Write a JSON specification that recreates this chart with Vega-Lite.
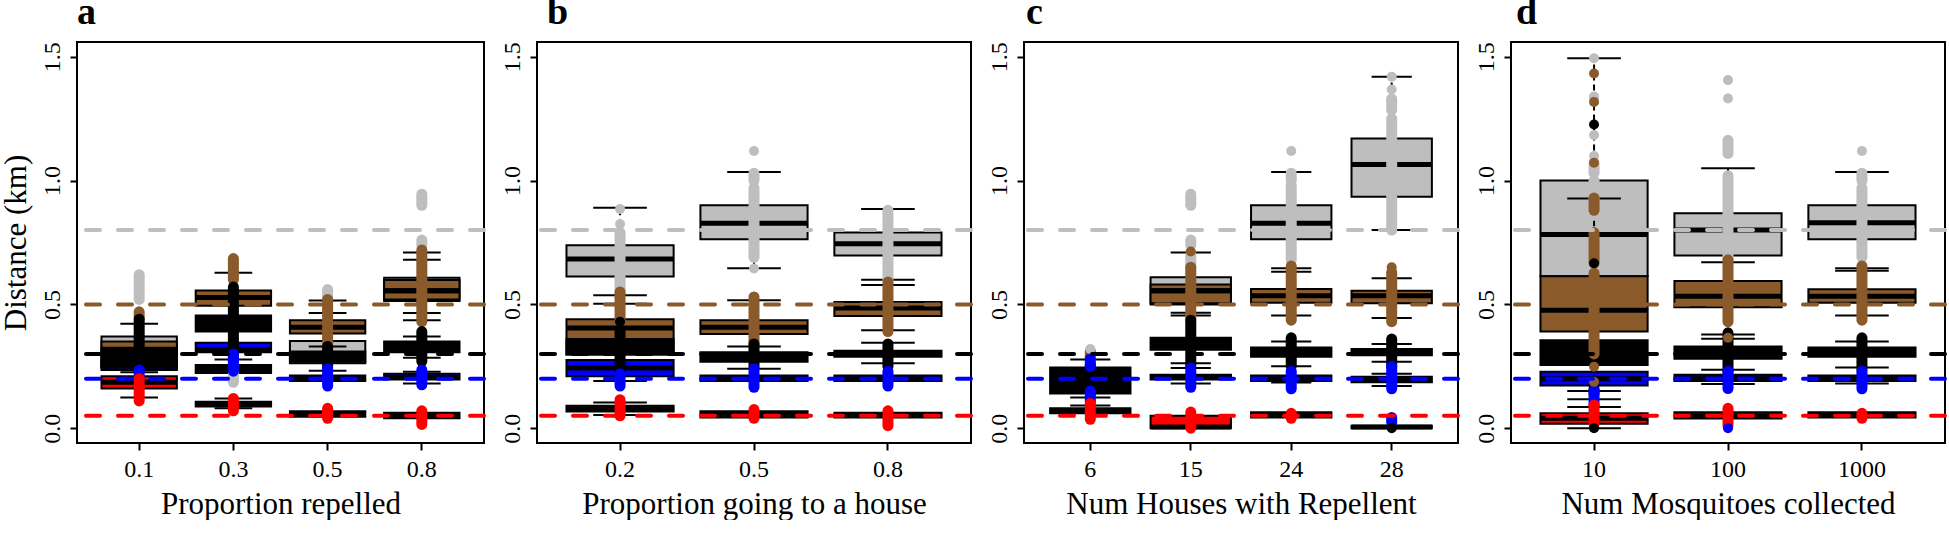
{
  "$schema": "https://vega.github.io/schema/vega-lite/v6.json",
  "background": "white",
  "padding": {"left": -1, "top": -8, "right": 0, "bottom": 0},
  "bounds": "flush",
  "spacing": 53,
  "resolve": {"scale": {"x": "independent", "y": "independent"}},
  "datasets": {
    "boxes": [
      {"p":"a","cat":"0.1","s":"gray","q1":0.245,"med":0.30,"q3":0.37,"hi":0.422},
      {"p":"a","cat":"0.1","s":"brown","q1":0.25,"med":0.30,"q3":0.35},
      {"p":"a","cat":"0.1","s":"blue","q1":0.235,"med":0.25,"q3":0.27,"lo":0.226},
      {"p":"a","cat":"0.1","s":"red","q1":0.16,"med":0.185,"q3":0.21,"lo":0.124},
      {"p":"a","cat":"0.1","s":"black","q1":0.245,"med":0.285,"q3":0.325},
      {"p":"a","cat":"0.3","s":"brown","q1":0.494,"med":0.528,"q3":0.556,"hi":0.628},
      {"p":"a","cat":"0.3","s":"blue","q1":0.307,"med":0.318,"q3":0.345,"lo":0.277},
      {"p":"a","cat":"0.3","s":"red","q1":0.087,"med":0.097,"q3":0.107,"lo":0.08,"hi":0.12},
      {"p":"a","cat":"0.3","s":"black","q1":0.39,"med":0.42,"q3":0.455},
      {"p":"a","cat":"0.3","s":"black","q1":0.223,"med":0.24,"q3":0.255},
      {"p":"a","cat":"0.5","s":"gray","q1":0.262,"med":0.29,"q3":0.352,"hi":0.465},
      {"p":"a","cat":"0.5","s":"brown","q1":0.382,"med":0.408,"q3":0.436,"hi":0.516},
      {"p":"a","cat":"0.5","s":"blue","q1":0.19,"med":0.2,"q3":0.213},
      {"p":"a","cat":"0.5","s":"red","q1":0.046,"med":0.057,"q3":0.068},
      {"p":"a","cat":"0.5","s":"black","q1":0.268,"med":0.29,"q3":0.31,"lo":0.232,"hi":0.33},
      {"p":"a","cat":"0.8","s":"gray","q1":0.514,"med":0.555,"q3":0.608,"lo":0.465,"hi":0.68},
      {"p":"a","cat":"0.8","s":"brown","q1":0.52,"med":0.555,"q3":0.598,"lo":0.436,"hi":0.71},
      {"p":"a","cat":"0.8","s":"blue","q1":0.197,"med":0.205,"q3":0.22,"lo":0.18,"hi":0.228},
      {"p":"a","cat":"0.8","s":"red","q1":0.04,"med":0.05,"q3":0.062},
      {"p":"a","cat":"0.8","s":"black","q1":0.307,"med":0.325,"q3":0.35,"lo":0.284,"hi":0.37},
      {"p":"b","cat":"0.2","s":"gray","q1":0.613,"med":0.683,"q3":0.739,"lo":0.537,"hi":0.89},
      {"p":"b","cat":"0.2","s":"brown","q1":0.30,"med":0.405,"q3":0.44,"hi":0.503},
      {"p":"b","cat":"0.2","s":"blue","q1":0.21,"med":0.243,"q3":0.275,"lo":0.19},
      {"p":"b","cat":"0.2","s":"red","q1":0.067,"med":0.078,"q3":0.09,"lo":0.053,"hi":0.104},
      {"p":"b","cat":"0.2","s":"black","q1":0.297,"med":0.33,"q3":0.36},
      {"p":"b","cat":"0.5","s":"gray","q1":0.763,"med":0.828,"q3":0.90,"lo":0.646,"hi":1.035},
      {"p":"b","cat":"0.5","s":"brown","q1":0.38,"med":0.408,"q3":0.436,"hi":0.517},
      {"p":"b","cat":"0.5","s":"blue","q1":0.19,"med":0.2,"q3":0.213},
      {"p":"b","cat":"0.5","s":"red","q1":0.043,"med":0.055,"q3":0.068},
      {"p":"b","cat":"0.5","s":"black","q1":0.268,"med":0.285,"q3":0.307,"lo":0.24,"hi":0.33},
      {"p":"b","cat":"0.8","s":"gray","q1":0.697,"med":0.745,"q3":0.79,"lo":0.60,"hi":0.885},
      {"p":"b","cat":"0.8","s":"brown","q1":0.453,"med":0.485,"q3":0.51,"lo":0.395,"hi":0.578},
      {"p":"b","cat":"0.8","s":"blue","q1":0.19,"med":0.2,"q3":0.213},
      {"p":"b","cat":"0.8","s":"red","q1":0.043,"med":0.052,"q3":0.062},
      {"p":"b","cat":"0.8","s":"black","q1":0.288,"med":0.30,"q3":0.313,"lo":0.262,"hi":0.345},
      {"p":"c","cat":"6","s":"red","q1":0.06,"med":0.07,"q3":0.08,"hi":0.091},
      {"p":"c","cat":"6","s":"black","q1":0.14,"med":0.19,"q3":0.245,"lo":0.124,"hi":0.277},
      {"p":"c","cat":"15","s":"gray","q1":0.5,"med":0.555,"q3":0.61,"lo":0.455},
      {"p":"c","cat":"15","s":"brown","q1":0.505,"med":0.555,"q3":0.58,"lo":0.466,"hi":0.71},
      {"p":"c","cat":"15","s":"blue","q1":0.197,"med":0.205,"q3":0.216,"lo":0.18,"hi":0.243},
      {"p":"c","cat":"15","s":"red","q1":0.0,"med":0.005,"q3":0.05},
      {"p":"c","cat":"15","s":"black","q1":0.317,"med":0.34,"q3":0.365,"lo":0.262},
      {"p":"c","cat":"24","s":"gray","q1":0.763,"med":0.828,"q3":0.90,"lo":0.646,"hi":1.035},
      {"p":"c","cat":"24","s":"brown","q1":0.507,"med":0.535,"q3":0.562,"lo":0.455,"hi":0.632},
      {"p":"c","cat":"24","s":"blue","q1":0.19,"med":0.2,"q3":0.213,"lo":0.184},
      {"p":"c","cat":"24","s":"red","q1":0.043,"med":0.053,"q3":0.064},
      {"p":"c","cat":"24","s":"black","q1":0.288,"med":0.305,"q3":0.326,"lo":0.25,"hi":0.35},
      {"p":"c","cat":"28","s":"gray","q1":0.935,"med":1.065,"q3":1.17,"lo":0.80,"hi":1.42},
      {"p":"c","cat":"28","s":"brown","q1":0.505,"med":0.535,"q3":0.555,"lo":0.445,"hi":0.606},
      {"p":"c","cat":"28","s":"blue","q1":0.185,"med":0.195,"q3":0.208,"lo":0.17,"hi":0.22},
      {"p":"c","cat":"28","s":"red","q1":0.0,"med":0.005,"q3":0.01},
      {"p":"c","cat":"28","s":"black","q1":0.294,"med":0.305,"q3":0.32,"lo":0.268,"hi":0.34},
      {"p":"d","cat":"10","s":"gray","q1":0.614,"med":0.782,"q3":1.0,"hi":1.494},
      {"p":"d","cat":"10","s":"brown","q1":0.39,"med":0.476,"q3":0.614,"hi":0.928},
      {"p":"d","cat":"10","s":"blue","q1":0.172,"med":0.2,"q3":0.228,"lo":0.117},
      {"p":"d","cat":"10","s":"red","q1":0.018,"med":0.04,"q3":0.06,"lo":0.0,"hi":0.085},
      {"p":"d","cat":"10","s":"black","q1":0.255,"med":0.30,"q3":0.355,"lo":0.15},
      {"p":"d","cat":"100","s":"gray","q1":0.697,"med":0.80,"q3":0.868,"lo":0.67,"hi":1.05},
      {"p":"d","cat":"100","s":"brown","q1":0.488,"med":0.533,"q3":0.594,"lo":0.378},
      {"p":"d","cat":"100","s":"blue","q1":0.19,"med":0.2,"q3":0.216,"lo":0.178},
      {"p":"d","cat":"100","s":"red","q1":0.039,"med":0.05,"q3":0.064},
      {"p":"d","cat":"100","s":"black","q1":0.28,"med":0.30,"q3":0.33,"lo":0.236,"hi":0.361},
      {"p":"d","cat":"1000","s":"gray","q1":0.763,"med":0.83,"q3":0.90,"lo":0.646,"hi":1.035},
      {"p":"d","cat":"1000","s":"brown","q1":0.507,"med":0.533,"q3":0.561,"lo":0.455,"hi":0.636},
      {"p":"d","cat":"1000","s":"blue","q1":0.19,"med":0.2,"q3":0.213,"lo":0.18},
      {"p":"d","cat":"1000","s":"red","q1":0.043,"med":0.052,"q3":0.064},
      {"p":"d","cat":"1000","s":"black","q1":0.288,"med":0.305,"q3":0.326,"lo":0.245,"hi":0.35}
    ],
    "clusters": [
      {"p":"a","cat":"0.1","s":"gray","lo":0.52,"hi":0.62},
      {"p":"a","cat":"0.3","s":"gray","lo":0.185,"hi":0.22},
      {"p":"a","cat":"0.5","s":"gray","lo":0.53,"hi":0.56},
      {"p":"a","cat":"0.8","s":"gray","lo":0.74,"hi":0.76},
      {"p":"a","cat":"0.8","s":"gray","lo":0.90,"hi":0.945},
      {"p":"a","cat":"0.1","s":"brown","lo":0.445,"hi":0.47},
      {"p":"a","cat":"0.3","s":"brown","lo":0.60,"hi":0.685},
      {"p":"a","cat":"0.5","s":"brown","lo":0.34,"hi":0.52},
      {"p":"a","cat":"0.8","s":"brown","lo":0.43,"hi":0.72},
      {"p":"a","cat":"0.1","s":"black","lo":0.235,"hi":0.44},
      {"p":"a","cat":"0.3","s":"black","lo":0.27,"hi":0.57},
      {"p":"a","cat":"0.5","s":"black","lo":0.245,"hi":0.33},
      {"p":"a","cat":"0.8","s":"black","lo":0.27,"hi":0.39},
      {"p":"a","cat":"0.1","s":"blue","lo":0.20,"hi":0.235},
      {"p":"a","cat":"0.3","s":"blue","lo":0.23,"hi":0.30},
      {"p":"a","cat":"0.5","s":"blue","lo":0.17,"hi":0.24},
      {"p":"a","cat":"0.8","s":"blue","lo":0.175,"hi":0.235},
      {"p":"a","cat":"0.1","s":"red","lo":0.11,"hi":0.20},
      {"p":"a","cat":"0.3","s":"red","lo":0.07,"hi":0.12},
      {"p":"a","cat":"0.5","s":"red","lo":0.04,"hi":0.08},
      {"p":"a","cat":"0.8","s":"red","lo":0.015,"hi":0.07},
      {"p":"b","cat":"0.2","s":"gray","lo":0.55,"hi":0.79},
      {"p":"b","cat":"0.5","s":"gray","lo":0.69,"hi":0.97},
      {"p":"b","cat":"0.5","s":"gray","lo":1.0,"hi":1.03},
      {"p":"b","cat":"0.8","s":"gray","lo":0.60,"hi":0.88},
      {"p":"b","cat":"0.2","s":"brown","lo":0.44,"hi":0.55},
      {"p":"b","cat":"0.5","s":"brown","lo":0.33,"hi":0.53},
      {"p":"b","cat":"0.8","s":"brown","lo":0.39,"hi":0.59},
      {"p":"b","cat":"0.2","s":"black","lo":0.23,"hi":0.39},
      {"p":"b","cat":"0.5","s":"black","lo":0.245,"hi":0.34},
      {"p":"b","cat":"0.8","s":"black","lo":0.25,"hi":0.34},
      {"p":"b","cat":"0.2","s":"blue","lo":0.17,"hi":0.22},
      {"p":"b","cat":"0.5","s":"blue","lo":0.165,"hi":0.24},
      {"p":"b","cat":"0.8","s":"blue","lo":0.17,"hi":0.23},
      {"p":"b","cat":"0.2","s":"red","lo":0.05,"hi":0.115},
      {"p":"b","cat":"0.5","s":"red","lo":0.04,"hi":0.075},
      {"p":"b","cat":"0.8","s":"red","lo":0.01,"hi":0.07},
      {"p":"c","cat":"15","s":"gray","lo":0.90,"hi":0.945},
      {"p":"c","cat":"15","s":"gray","lo":0.74,"hi":0.76},
      {"p":"c","cat":"15","s":"gray","lo":0.65,"hi":0.70},
      {"p":"c","cat":"24","s":"gray","lo":0.68,"hi":0.98},
      {"p":"c","cat":"24","s":"gray","lo":1.0,"hi":1.03},
      {"p":"c","cat":"28","s":"gray","lo":0.80,"hi":1.25},
      {"p":"c","cat":"28","s":"gray","lo":1.285,"hi":1.33},
      {"p":"c","cat":"6","s":"brown","lo":0.28,"hi":0.31},
      {"p":"c","cat":"15","s":"brown","lo":0.44,"hi":0.65},
      {"p":"c","cat":"24","s":"brown","lo":0.436,"hi":0.655},
      {"p":"c","cat":"28","s":"brown","lo":0.43,"hi":0.63},
      {"p":"c","cat":"6","s":"black","lo":0.14,"hi":0.256},
      {"p":"c","cat":"15","s":"black","lo":0.25,"hi":0.436},
      {"p":"c","cat":"24","s":"black","lo":0.25,"hi":0.365},
      {"p":"c","cat":"28","s":"black","lo":0.25,"hi":0.36},
      {"p":"c","cat":"6","s":"blue","lo":0.25,"hi":0.28},
      {"p":"c","cat":"6","s":"blue","lo":0.107,"hi":0.15},
      {"p":"c","cat":"15","s":"blue","lo":0.165,"hi":0.243},
      {"p":"c","cat":"24","s":"blue","lo":0.159,"hi":0.23},
      {"p":"c","cat":"28","s":"blue","lo":0.159,"hi":0.25},
      {"p":"c","cat":"28","s":"blue","lo":0.023,"hi":0.043},
      {"p":"c","cat":"6","s":"red","lo":0.036,"hi":0.10},
      {"p":"c","cat":"15","s":"red","lo":0.0,"hi":0.065},
      {"p":"c","cat":"24","s":"red","lo":0.04,"hi":0.06},
      {"p":"d","cat":"10","s":"gray","lo":0.86,"hi":1.0},
      {"p":"d","cat":"10","s":"gray","lo":1.03,"hi":1.07},
      {"p":"d","cat":"100","s":"gray","lo":0.68,"hi":1.02},
      {"p":"d","cat":"100","s":"gray","lo":1.11,"hi":1.163},
      {"p":"d","cat":"1000","s":"gray","lo":0.69,"hi":0.97},
      {"p":"d","cat":"1000","s":"gray","lo":1.0,"hi":1.03},
      {"p":"d","cat":"10","s":"brown","lo":0.30,"hi":0.626},
      {"p":"d","cat":"10","s":"brown","lo":0.667,"hi":0.79},
      {"p":"d","cat":"10","s":"brown","lo":0.88,"hi":0.93},
      {"p":"d","cat":"100","s":"brown","lo":0.43,"hi":0.68},
      {"p":"d","cat":"1000","s":"brown","lo":0.436,"hi":0.655},
      {"p":"d","cat":"10","s":"black","lo":0.14,"hi":0.16},
      {"p":"d","cat":"100","s":"black","lo":0.23,"hi":0.385},
      {"p":"d","cat":"1000","s":"black","lo":0.236,"hi":0.365},
      {"p":"d","cat":"10","s":"blue","lo":0.094,"hi":0.152},
      {"p":"d","cat":"100","s":"blue","lo":0.16,"hi":0.23},
      {"p":"d","cat":"1000","s":"blue","lo":0.159,"hi":0.23},
      {"p":"d","cat":"10","s":"red","lo":0.017,"hi":0.094},
      {"p":"d","cat":"100","s":"red","lo":0.01,"hi":0.08},
      {"p":"d","cat":"1000","s":"red","lo":0.04,"hi":0.06}
    ],
    "points": [
      {"p":"b","cat":"0.2","s":"gray","v":0.885},
      {"p":"b","cat":"0.2","s":"gray","v":0.825},
      {"p":"b","cat":"0.2","s":"black","v":0.43},
      {"p":"b","cat":"0.5","s":"gray","v":1.12},
      {"p":"b","cat":"0.5","s":"gray","v":0.645},
      {"p":"c","cat":"6","s":"gray","v":0.32},
      {"p":"c","cat":"15","s":"brown","v":0.714},
      {"p":"c","cat":"24","s":"gray","v":1.12},
      {"p":"c","cat":"28","s":"gray","v":1.368},
      {"p":"c","cat":"28","s":"gray","v":1.42},
      {"p":"c","cat":"28","s":"brown","v":0.65},
      {"p":"c","cat":"28","s":"black","v":0.0},
      {"p":"d","cat":"10","s":"gray","v":1.099},
      {"p":"d","cat":"10","s":"gray","v":1.184},
      {"p":"d","cat":"10","s":"gray","v":1.34},
      {"p":"d","cat":"10","s":"gray","v":1.494},
      {"p":"d","cat":"10","s":"brown","v":1.072},
      {"p":"d","cat":"10","s":"brown","v":1.318},
      {"p":"d","cat":"10","s":"brown","v":1.433},
      {"p":"d","cat":"10","s":"brown","v":0.248},
      {"p":"d","cat":"10","s":"brown","v":0.187},
      {"p":"d","cat":"10","s":"black","v":1.227},
      {"p":"d","cat":"10","s":"black","v":0.666},
      {"p":"d","cat":"10","s":"black","v":0.0},
      {"p":"d","cat":"100","s":"gray","v":1.332},
      {"p":"d","cat":"100","s":"gray","v":1.406},
      {"p":"d","cat":"100","s":"brown","v":0.365},
      {"p":"d","cat":"100","s":"blue","v":0.0},
      {"p":"d","cat":"1000","s":"gray","v":1.12}
    ],
    "refs": [
      {"s":"gray","v":0.8},
      {"s":"brown","v":0.5},
      {"s":"black","v":0.3},
      {"s":"blue","v":0.2},
      {"s":"red","v":0.05}
    ]
  },
  "hconcat": [
    {
      "width": 407, "height": 401,
      "title": {"text": "a", "dx": 0},
      "layer": [
        {"data": {"name": "boxes"}, "transform": [{"filter": "datum.p == 'a'"}],
         "mark": {"type": "rect", "stroke": "black", "strokeWidth": 2},
         "encoding": {
           "x": {"field": "cat", "type": "nominal", "sort": ["0.1","0.3","0.5","0.8"], "scale": {"type": "band", "paddingInner": 0.2, "paddingOuter": 0.26}, "title": "Proportion repelled"},
           "y": {"field": "q1", "type": "quantitative", "scale": {"domain": [-0.06, 1.56], "nice": false, "zero": false}, "title": "Distance (km)", "axis": {"values": [0, 0.5, 1, 1.5], "format": ".1f", "titleX": -52, "titleY": 200.5, "titleAngle": 270, "titleBaseline": "alphabetic", "titleAlign": "center"}},
           "y2": {"field": "q3"},
           "fill": {"field": "s", "type": "nominal", "scale": {"domain": ["gray","brown","black","blue","red"], "range": ["#bebebe","#8b5a2b","#000000","#0000ff","#ff0000"]}, "legend": null}
         }},
        {"data": {"name": "boxes"}, "transform": [{"filter": "datum.p == 'a' && isValid(datum.hi)"}],
         "mark": {"type": "rule", "color": "black", "strokeWidth": 2, "strokeDash": [6, 4]},
         "encoding": {
           "x": {"field": "cat", "type": "nominal", "sort": ["0.1","0.3","0.5","0.8"], "scale": {"type": "band", "paddingInner": 0.2, "paddingOuter": 0.26}, "title": "Proportion repelled"},
           "y": {"field": "q3", "type": "quantitative", "scale": {"domain": [-0.06, 1.56], "nice": false, "zero": false}, "title": "Distance (km)"},
           "y2": {"field": "hi"}
         }},
        {"data": {"name": "boxes"}, "transform": [{"filter": "datum.p == 'a' && isValid(datum.lo)"}],
         "mark": {"type": "rule", "color": "black", "strokeWidth": 2, "strokeDash": [6, 4]},
         "encoding": {
           "x": {"field": "cat", "type": "nominal", "sort": ["0.1","0.3","0.5","0.8"], "scale": {"type": "band", "paddingInner": 0.2, "paddingOuter": 0.26}, "title": "Proportion repelled"},
           "y": {"field": "lo", "type": "quantitative", "scale": {"domain": [-0.06, 1.56], "nice": false, "zero": false}, "title": "Distance (km)"},
           "y2": {"field": "q1"}
         }},
        {"data": {"name": "boxes"}, "transform": [{"filter": "datum.p == 'a' && isValid(datum.hi)"}],
         "mark": {"type": "tick", "color": "black", "thickness": 2, "size": 37.7, "orient": "horizontal", "opacity": 1},
         "encoding": {
           "x": {"field": "cat", "type": "nominal", "sort": ["0.1","0.3","0.5","0.8"], "scale": {"type": "band", "paddingInner": 0.2, "paddingOuter": 0.26}, "title": "Proportion repelled"},
           "y": {"field": "hi", "type": "quantitative", "scale": {"domain": [-0.06, 1.56], "nice": false, "zero": false}, "title": "Distance (km)"}
         }},
        {"data": {"name": "boxes"}, "transform": [{"filter": "datum.p == 'a' && isValid(datum.lo)"}],
         "mark": {"type": "tick", "color": "black", "thickness": 2, "size": 37.7, "orient": "horizontal", "opacity": 1},
         "encoding": {
           "x": {"field": "cat", "type": "nominal", "sort": ["0.1","0.3","0.5","0.8"], "scale": {"type": "band", "paddingInner": 0.2, "paddingOuter": 0.26}, "title": "Proportion repelled"},
           "y": {"field": "lo", "type": "quantitative", "scale": {"domain": [-0.06, 1.56], "nice": false, "zero": false}, "title": "Distance (km)"}
         }},
        {"data": {"name": "boxes"}, "transform": [{"filter": "datum.p == 'a'"}],
         "mark": {"type": "tick", "color": "black", "thickness": 5, "size": 75.4, "orient": "horizontal", "opacity": 1},
         "encoding": {
           "x": {"field": "cat", "type": "nominal", "sort": ["0.1","0.3","0.5","0.8"], "scale": {"type": "band", "paddingInner": 0.2, "paddingOuter": 0.26}, "title": "Proportion repelled"},
           "y": {"field": "med", "type": "quantitative", "scale": {"domain": [-0.06, 1.56], "nice": false, "zero": false}, "title": "Distance (km)"}
         }},
        {"data": {"name": "clusters"}, "transform": [{"filter": "datum.p == 'a'"}],
         "mark": {"type": "rule", "strokeWidth": 11, "strokeCap": "round"},
         "encoding": {
           "x": {"field": "cat", "type": "nominal", "sort": ["0.1","0.3","0.5","0.8"], "scale": {"type": "band", "paddingInner": 0.2, "paddingOuter": 0.26}, "title": "Proportion repelled"},
           "y": {"field": "lo", "type": "quantitative", "scale": {"domain": [-0.06, 1.56], "nice": false, "zero": false}, "title": "Distance (km)"},
           "y2": {"field": "hi"},
           "color": {"field": "s", "type": "nominal", "scale": {"domain": ["gray","brown","black","blue","red"], "range": ["#bebebe","#8b5a2b","#000000","#0000ff","#ff0000"]}, "legend": null}
         }},
        {"data": {"name": "refs"},
         "mark": {"type": "rule", "strokeWidth": 4, "strokeDash": [14, 18], "strokeCap": "round"},
         "encoding": {
           "y": {"field": "v", "type": "quantitative", "scale": {"domain": [-0.06, 1.56], "nice": false, "zero": false}, "title": "Distance (km)"},
           "color": {"field": "s", "type": "nominal", "scale": {"domain": ["gray","brown","black","blue","red"], "range": ["#bebebe","#8b5a2b","#000000","#0000ff","#ff0000"]}, "legend": null}
         }}
      ]
    },
    {
      "width": 434, "height": 401,
      "title": {"text": "b", "dx": 10},
      "layer": [
        {"data": {"name": "boxes"}, "transform": [{"filter": "datum.p == 'b'"}],
         "mark": {"type": "rect", "stroke": "black", "strokeWidth": 2},
         "encoding": {
           "x": {"field": "cat", "type": "nominal", "sort": ["0.2","0.5","0.8"], "scale": {"type": "band", "paddingInner": 0.2, "paddingOuter": 0.22}, "title": "Proportion going to a house"},
           "y": {"field": "q1", "type": "quantitative", "scale": {"domain": [-0.06, 1.56], "nice": false, "zero": false}, "title": null, "axis": {"values": [0, 0.5, 1, 1.5], "format": ".1f"}},
           "y2": {"field": "q3"},
           "fill": {"field": "s", "type": "nominal", "scale": {"domain": ["gray","brown","black","blue","red"], "range": ["#bebebe","#8b5a2b","#000000","#0000ff","#ff0000"]}, "legend": null}
         }},
        {"data": {"name": "boxes"}, "transform": [{"filter": "datum.p == 'b' && isValid(datum.hi)"}],
         "mark": {"type": "rule", "color": "black", "strokeWidth": 2, "strokeDash": [6, 4]},
         "encoding": {
           "x": {"field": "cat", "type": "nominal", "sort": ["0.2","0.5","0.8"], "scale": {"type": "band", "paddingInner": 0.2, "paddingOuter": 0.22}, "title": "Proportion going to a house"},
           "y": {"field": "q3", "type": "quantitative", "scale": {"domain": [-0.06, 1.56], "nice": false, "zero": false}, "title": null},
           "y2": {"field": "hi"}
         }},
        {"data": {"name": "boxes"}, "transform": [{"filter": "datum.p == 'b' && isValid(datum.lo)"}],
         "mark": {"type": "rule", "color": "black", "strokeWidth": 2, "strokeDash": [6, 4]},
         "encoding": {
           "x": {"field": "cat", "type": "nominal", "sort": ["0.2","0.5","0.8"], "scale": {"type": "band", "paddingInner": 0.2, "paddingOuter": 0.22}, "title": "Proportion going to a house"},
           "y": {"field": "lo", "type": "quantitative", "scale": {"domain": [-0.06, 1.56], "nice": false, "zero": false}, "title": null},
           "y2": {"field": "q1"}
         }},
        {"data": {"name": "boxes"}, "transform": [{"filter": "datum.p == 'b' && isValid(datum.hi)"}],
         "mark": {"type": "tick", "color": "black", "thickness": 2, "size": 53.6, "orient": "horizontal", "opacity": 1},
         "encoding": {
           "x": {"field": "cat", "type": "nominal", "sort": ["0.2","0.5","0.8"], "scale": {"type": "band", "paddingInner": 0.2, "paddingOuter": 0.22}, "title": "Proportion going to a house"},
           "y": {"field": "hi", "type": "quantitative", "scale": {"domain": [-0.06, 1.56], "nice": false, "zero": false}, "title": null}
         }},
        {"data": {"name": "boxes"}, "transform": [{"filter": "datum.p == 'b' && isValid(datum.lo)"}],
         "mark": {"type": "tick", "color": "black", "thickness": 2, "size": 53.6, "orient": "horizontal", "opacity": 1},
         "encoding": {
           "x": {"field": "cat", "type": "nominal", "sort": ["0.2","0.5","0.8"], "scale": {"type": "band", "paddingInner": 0.2, "paddingOuter": 0.22}, "title": "Proportion going to a house"},
           "y": {"field": "lo", "type": "quantitative", "scale": {"domain": [-0.06, 1.56], "nice": false, "zero": false}, "title": null}
         }},
        {"data": {"name": "boxes"}, "transform": [{"filter": "datum.p == 'b'"}],
         "mark": {"type": "tick", "color": "black", "thickness": 5, "size": 107.2, "orient": "horizontal", "opacity": 1},
         "encoding": {
           "x": {"field": "cat", "type": "nominal", "sort": ["0.2","0.5","0.8"], "scale": {"type": "band", "paddingInner": 0.2, "paddingOuter": 0.22}, "title": "Proportion going to a house"},
           "y": {"field": "med", "type": "quantitative", "scale": {"domain": [-0.06, 1.56], "nice": false, "zero": false}, "title": null}
         }},
        {"data": {"name": "clusters"}, "transform": [{"filter": "datum.p == 'b'"}],
         "mark": {"type": "rule", "strokeWidth": 11, "strokeCap": "round"},
         "encoding": {
           "x": {"field": "cat", "type": "nominal", "sort": ["0.2","0.5","0.8"], "scale": {"type": "band", "paddingInner": 0.2, "paddingOuter": 0.22}, "title": "Proportion going to a house"},
           "y": {"field": "lo", "type": "quantitative", "scale": {"domain": [-0.06, 1.56], "nice": false, "zero": false}, "title": null},
           "y2": {"field": "hi"},
           "color": {"field": "s", "type": "nominal", "scale": {"domain": ["gray","brown","black","blue","red"], "range": ["#bebebe","#8b5a2b","#000000","#0000ff","#ff0000"]}, "legend": null}
         }},
        {"data": {"name": "points"}, "transform": [{"filter": "datum.p == 'b'"}],
         "mark": {"type": "point", "filled": true, "size": 100, "opacity": 1},
         "encoding": {
           "x": {"field": "cat", "type": "nominal", "sort": ["0.2","0.5","0.8"], "scale": {"type": "band", "paddingInner": 0.2, "paddingOuter": 0.22}, "title": "Proportion going to a house"},
           "y": {"field": "v", "type": "quantitative", "scale": {"domain": [-0.06, 1.56], "nice": false, "zero": false}, "title": null},
           "color": {"field": "s", "type": "nominal", "scale": {"domain": ["gray","brown","black","blue","red"], "range": ["#bebebe","#8b5a2b","#000000","#0000ff","#ff0000"]}, "legend": null}
         }},
        {"data": {"name": "refs"},
         "mark": {"type": "rule", "strokeWidth": 4, "strokeDash": [14, 18], "strokeCap": "round"},
         "encoding": {
           "y": {"field": "v", "type": "quantitative", "scale": {"domain": [-0.06, 1.56], "nice": false, "zero": false}, "title": null},
           "color": {"field": "s", "type": "nominal", "scale": {"domain": ["gray","brown","black","blue","red"], "range": ["#bebebe","#8b5a2b","#000000","#0000ff","#ff0000"]}, "legend": null}
         }}
      ]
    },
    {
      "width": 434, "height": 401,
      "title": {"text": "c", "dx": 2},
      "layer": [
        {"data": {"name": "boxes"}, "transform": [{"filter": "datum.p == 'c'"}],
         "mark": {"type": "rect", "stroke": "black", "strokeWidth": 2},
         "encoding": {
           "x": {"field": "cat", "type": "nominal", "sort": ["6","15","24","28"], "scale": {"type": "band", "paddingInner": 0.2, "paddingOuter": 0.26}, "title": "Num Houses with Repellent"},
           "y": {"field": "q1", "type": "quantitative", "scale": {"domain": [-0.06, 1.56], "nice": false, "zero": false}, "title": null, "axis": {"values": [0, 0.5, 1, 1.5], "format": ".1f"}},
           "y2": {"field": "q3"},
           "fill": {"field": "s", "type": "nominal", "scale": {"domain": ["gray","brown","black","blue","red"], "range": ["#bebebe","#8b5a2b","#000000","#0000ff","#ff0000"]}, "legend": null}
         }},
        {"data": {"name": "boxes"}, "transform": [{"filter": "datum.p == 'c' && isValid(datum.hi)"}],
         "mark": {"type": "rule", "color": "black", "strokeWidth": 2, "strokeDash": [6, 4]},
         "encoding": {
           "x": {"field": "cat", "type": "nominal", "sort": ["6","15","24","28"], "scale": {"type": "band", "paddingInner": 0.2, "paddingOuter": 0.26}, "title": "Num Houses with Repellent"},
           "y": {"field": "q3", "type": "quantitative", "scale": {"domain": [-0.06, 1.56], "nice": false, "zero": false}, "title": null},
           "y2": {"field": "hi"}
         }},
        {"data": {"name": "boxes"}, "transform": [{"filter": "datum.p == 'c' && isValid(datum.lo)"}],
         "mark": {"type": "rule", "color": "black", "strokeWidth": 2, "strokeDash": [6, 4]},
         "encoding": {
           "x": {"field": "cat", "type": "nominal", "sort": ["6","15","24","28"], "scale": {"type": "band", "paddingInner": 0.2, "paddingOuter": 0.26}, "title": "Num Houses with Repellent"},
           "y": {"field": "lo", "type": "quantitative", "scale": {"domain": [-0.06, 1.56], "nice": false, "zero": false}, "title": null},
           "y2": {"field": "q1"}
         }},
        {"data": {"name": "boxes"}, "transform": [{"filter": "datum.p == 'c' && isValid(datum.hi)"}],
         "mark": {"type": "tick", "color": "black", "thickness": 2, "size": 40.2, "orient": "horizontal", "opacity": 1},
         "encoding": {
           "x": {"field": "cat", "type": "nominal", "sort": ["6","15","24","28"], "scale": {"type": "band", "paddingInner": 0.2, "paddingOuter": 0.26}, "title": "Num Houses with Repellent"},
           "y": {"field": "hi", "type": "quantitative", "scale": {"domain": [-0.06, 1.56], "nice": false, "zero": false}, "title": null}
         }},
        {"data": {"name": "boxes"}, "transform": [{"filter": "datum.p == 'c' && isValid(datum.lo)"}],
         "mark": {"type": "tick", "color": "black", "thickness": 2, "size": 40.2, "orient": "horizontal", "opacity": 1},
         "encoding": {
           "x": {"field": "cat", "type": "nominal", "sort": ["6","15","24","28"], "scale": {"type": "band", "paddingInner": 0.2, "paddingOuter": 0.26}, "title": "Num Houses with Repellent"},
           "y": {"field": "lo", "type": "quantitative", "scale": {"domain": [-0.06, 1.56], "nice": false, "zero": false}, "title": null}
         }},
        {"data": {"name": "boxes"}, "transform": [{"filter": "datum.p == 'c'"}],
         "mark": {"type": "tick", "color": "black", "thickness": 5, "size": 80.4, "orient": "horizontal", "opacity": 1},
         "encoding": {
           "x": {"field": "cat", "type": "nominal", "sort": ["6","15","24","28"], "scale": {"type": "band", "paddingInner": 0.2, "paddingOuter": 0.26}, "title": "Num Houses with Repellent"},
           "y": {"field": "med", "type": "quantitative", "scale": {"domain": [-0.06, 1.56], "nice": false, "zero": false}, "title": null}
         }},
        {"data": {"name": "clusters"}, "transform": [{"filter": "datum.p == 'c'"}],
         "mark": {"type": "rule", "strokeWidth": 11, "strokeCap": "round"},
         "encoding": {
           "x": {"field": "cat", "type": "nominal", "sort": ["6","15","24","28"], "scale": {"type": "band", "paddingInner": 0.2, "paddingOuter": 0.26}, "title": "Num Houses with Repellent"},
           "y": {"field": "lo", "type": "quantitative", "scale": {"domain": [-0.06, 1.56], "nice": false, "zero": false}, "title": null},
           "y2": {"field": "hi"},
           "color": {"field": "s", "type": "nominal", "scale": {"domain": ["gray","brown","black","blue","red"], "range": ["#bebebe","#8b5a2b","#000000","#0000ff","#ff0000"]}, "legend": null}
         }},
        {"data": {"name": "points"}, "transform": [{"filter": "datum.p == 'c'"}],
         "mark": {"type": "point", "filled": true, "size": 100, "opacity": 1},
         "encoding": {
           "x": {"field": "cat", "type": "nominal", "sort": ["6","15","24","28"], "scale": {"type": "band", "paddingInner": 0.2, "paddingOuter": 0.26}, "title": "Num Houses with Repellent"},
           "y": {"field": "v", "type": "quantitative", "scale": {"domain": [-0.06, 1.56], "nice": false, "zero": false}, "title": null},
           "color": {"field": "s", "type": "nominal", "scale": {"domain": ["gray","brown","black","blue","red"], "range": ["#bebebe","#8b5a2b","#000000","#0000ff","#ff0000"]}, "legend": null}
         }},
        {"data": {"name": "refs"},
         "mark": {"type": "rule", "strokeWidth": 4, "strokeDash": [14, 18], "strokeCap": "round"},
         "encoding": {
           "y": {"field": "v", "type": "quantitative", "scale": {"domain": [-0.06, 1.56], "nice": false, "zero": false}, "title": null},
           "color": {"field": "s", "type": "nominal", "scale": {"domain": ["gray","brown","black","blue","red"], "range": ["#bebebe","#8b5a2b","#000000","#0000ff","#ff0000"]}, "legend": null}
         }}
      ]
    },
    {
      "width": 434, "height": 401,
      "title": {"text": "d", "dx": 5},
      "layer": [
        {"data": {"name": "boxes"}, "transform": [{"filter": "datum.p == 'd'"}],
         "mark": {"type": "rect", "stroke": "black", "strokeWidth": 2},
         "encoding": {
           "x": {"field": "cat", "type": "nominal", "sort": ["10","100","1000"], "scale": {"type": "band", "paddingInner": 0.2, "paddingOuter": 0.22}, "title": "Num Mosquitoes collected"},
           "y": {"field": "q1", "type": "quantitative", "scale": {"domain": [-0.06, 1.56], "nice": false, "zero": false}, "title": null, "axis": {"values": [0, 0.5, 1, 1.5], "format": ".1f"}},
           "y2": {"field": "q3"},
           "fill": {"field": "s", "type": "nominal", "scale": {"domain": ["gray","brown","black","blue","red"], "range": ["#bebebe","#8b5a2b","#000000","#0000ff","#ff0000"]}, "legend": null}
         }},
        {"data": {"name": "boxes"}, "transform": [{"filter": "datum.p == 'd' && isValid(datum.hi)"}],
         "mark": {"type": "rule", "color": "black", "strokeWidth": 2, "strokeDash": [6, 4]},
         "encoding": {
           "x": {"field": "cat", "type": "nominal", "sort": ["10","100","1000"], "scale": {"type": "band", "paddingInner": 0.2, "paddingOuter": 0.22}, "title": "Num Mosquitoes collected"},
           "y": {"field": "q3", "type": "quantitative", "scale": {"domain": [-0.06, 1.56], "nice": false, "zero": false}, "title": null},
           "y2": {"field": "hi"}
         }},
        {"data": {"name": "boxes"}, "transform": [{"filter": "datum.p == 'd' && isValid(datum.lo)"}],
         "mark": {"type": "rule", "color": "black", "strokeWidth": 2, "strokeDash": [6, 4]},
         "encoding": {
           "x": {"field": "cat", "type": "nominal", "sort": ["10","100","1000"], "scale": {"type": "band", "paddingInner": 0.2, "paddingOuter": 0.22}, "title": "Num Mosquitoes collected"},
           "y": {"field": "lo", "type": "quantitative", "scale": {"domain": [-0.06, 1.56], "nice": false, "zero": false}, "title": null},
           "y2": {"field": "q1"}
         }},
        {"data": {"name": "boxes"}, "transform": [{"filter": "datum.p == 'd' && isValid(datum.hi)"}],
         "mark": {"type": "tick", "color": "black", "thickness": 2, "size": 53.6, "orient": "horizontal", "opacity": 1},
         "encoding": {
           "x": {"field": "cat", "type": "nominal", "sort": ["10","100","1000"], "scale": {"type": "band", "paddingInner": 0.2, "paddingOuter": 0.22}, "title": "Num Mosquitoes collected"},
           "y": {"field": "hi", "type": "quantitative", "scale": {"domain": [-0.06, 1.56], "nice": false, "zero": false}, "title": null}
         }},
        {"data": {"name": "boxes"}, "transform": [{"filter": "datum.p == 'd' && isValid(datum.lo)"}],
         "mark": {"type": "tick", "color": "black", "thickness": 2, "size": 53.6, "orient": "horizontal", "opacity": 1},
         "encoding": {
           "x": {"field": "cat", "type": "nominal", "sort": ["10","100","1000"], "scale": {"type": "band", "paddingInner": 0.2, "paddingOuter": 0.22}, "title": "Num Mosquitoes collected"},
           "y": {"field": "lo", "type": "quantitative", "scale": {"domain": [-0.06, 1.56], "nice": false, "zero": false}, "title": null}
         }},
        {"data": {"name": "boxes"}, "transform": [{"filter": "datum.p == 'd'"}],
         "mark": {"type": "tick", "color": "black", "thickness": 5, "size": 107.2, "orient": "horizontal", "opacity": 1},
         "encoding": {
           "x": {"field": "cat", "type": "nominal", "sort": ["10","100","1000"], "scale": {"type": "band", "paddingInner": 0.2, "paddingOuter": 0.22}, "title": "Num Mosquitoes collected"},
           "y": {"field": "med", "type": "quantitative", "scale": {"domain": [-0.06, 1.56], "nice": false, "zero": false}, "title": null}
         }},
        {"data": {"name": "clusters"}, "transform": [{"filter": "datum.p == 'd'"}],
         "mark": {"type": "rule", "strokeWidth": 11, "strokeCap": "round"},
         "encoding": {
           "x": {"field": "cat", "type": "nominal", "sort": ["10","100","1000"], "scale": {"type": "band", "paddingInner": 0.2, "paddingOuter": 0.22}, "title": "Num Mosquitoes collected"},
           "y": {"field": "lo", "type": "quantitative", "scale": {"domain": [-0.06, 1.56], "nice": false, "zero": false}, "title": null},
           "y2": {"field": "hi"},
           "color": {"field": "s", "type": "nominal", "scale": {"domain": ["gray","brown","black","blue","red"], "range": ["#bebebe","#8b5a2b","#000000","#0000ff","#ff0000"]}, "legend": null}
         }},
        {"data": {"name": "points"}, "transform": [{"filter": "datum.p == 'd'"}],
         "mark": {"type": "point", "filled": true, "size": 100, "opacity": 1},
         "encoding": {
           "x": {"field": "cat", "type": "nominal", "sort": ["10","100","1000"], "scale": {"type": "band", "paddingInner": 0.2, "paddingOuter": 0.22}, "title": "Num Mosquitoes collected"},
           "y": {"field": "v", "type": "quantitative", "scale": {"domain": [-0.06, 1.56], "nice": false, "zero": false}, "title": null},
           "color": {"field": "s", "type": "nominal", "scale": {"domain": ["gray","brown","black","blue","red"], "range": ["#bebebe","#8b5a2b","#000000","#0000ff","#ff0000"]}, "legend": null}
         }},
        {"data": {"name": "refs"},
         "mark": {"type": "rule", "strokeWidth": 4, "strokeDash": [14, 18], "strokeCap": "round"},
         "encoding": {
           "y": {"field": "v", "type": "quantitative", "scale": {"domain": [-0.06, 1.56], "nice": false, "zero": false}, "title": null},
           "color": {"field": "s", "type": "nominal", "scale": {"domain": ["gray","brown","black","blue","red"], "range": ["#bebebe","#8b5a2b","#000000","#0000ff","#ff0000"]}, "legend": null}
         }}
      ]
    }
  ],
  "config": {
    "view": {"stroke": "black", "strokeWidth": 2},
    "font": "Liberation Serif",
    "axis": {"domain": false, "grid": false, "ticks": true, "tickColor": "black", "tickWidth": 2, "tickSize": 7, "labelFont": "Liberation Serif", "labelFontSize": 24, "labelColor": "black", "labelOverlap": false, "titleFont": "Liberation Serif", "titleFontSize": 31, "titleFontWeight": "normal", "titleColor": "black"},
    "axisX": {"labelAngle": 0, "labelBaseline": "alphabetic", "labelPadding": 26, "titleBaseline": "alphabetic", "titleY": 70},
    "axisY": {"labelAngle": 270, "labelAlign": "center", "labelBaseline": "alphabetic", "labelPadding": 11},
    "title": {"font": "Liberation Serif", "fontSize": 38, "fontWeight": "bold", "anchor": "start", "baseline": "alphabetic", "offset": 10, "color": "black", "frame": "group"}
  }
}
